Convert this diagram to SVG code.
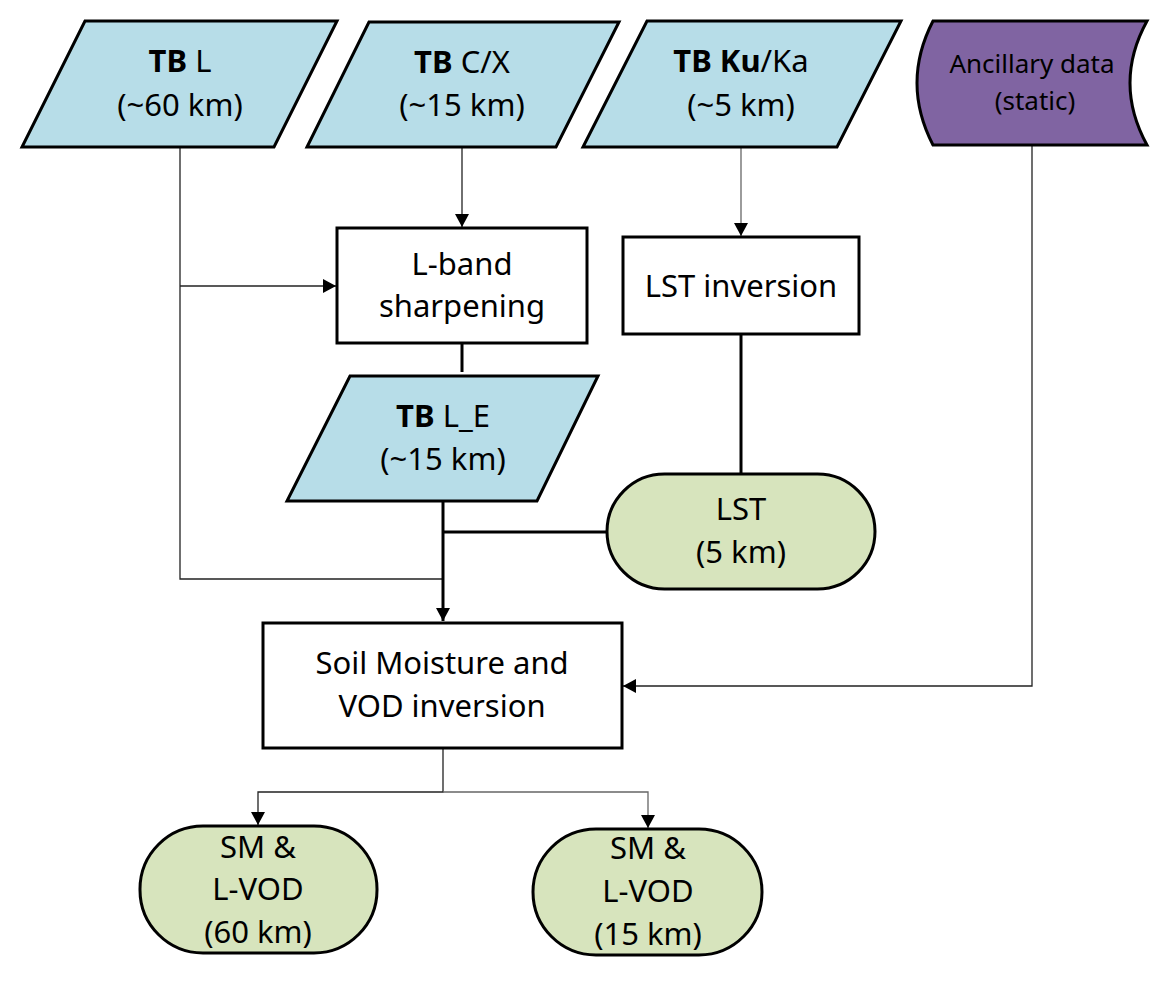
<svg xmlns="http://www.w3.org/2000/svg" width="1166" height="994" viewBox="0 0 1166 994">
<defs>
<style>
text{font-family:"Noto Sans","Open Sans","Liberation Sans",sans-serif;font-size:31px;fill:#000;text-anchor:middle}
.sm{font-size:26px}
.b{font-weight:bold}
.node{stroke:#000;stroke-width:3;stroke-linejoin:miter}
.blue{fill:#B7DDE8}
.green{fill:#D7E4BD}
.purple{fill:#8064A2}
.box{fill:#fff}
.thin{fill:none;stroke:#222;stroke-width:1.3}
.grey{fill:none;stroke:#666;stroke-width:1.3}
.thick{fill:none;stroke:#000;stroke-width:3}
</style>
<marker id="arr" markerUnits="userSpaceOnUse" markerWidth="14" markerHeight="14" viewBox="0 0 14 14" refX="13" refY="7" orient="auto">
<path d="M0,0 L13,7 L0,14 Z" fill="#000"/>
</marker>
</defs>
<g id="connectors">
<path class="thin" d="M180,147 V579 H443"/>
<path class="thin" d="M180,286 H336" marker-end="url(#arr)"/>
<path class="thin" d="M462,147 V227" marker-end="url(#arr)"/>
<path class="grey" d="M741,147 V236" marker-end="url(#arr)"/>
<path class="thin" d="M1032,145 V686 H623" marker-end="url(#arr)"/>
<path class="thick" d="M462,343 V372"/>
<path class="thick" d="M741,334 V474"/>
<path class="thick" d="M443,501 V621" marker-end="url(#arr)"/>
<path class="thick" d="M443,532 H607"/>
<path class="thin" d="M443,748 V792 H258 V825" marker-end="url(#arr)"/>
<path class="grey" d="M443,792 H648 V828" marker-end="url(#arr)"/>
</g>
<g id="tb-l">
<path class="node blue" d="M85,21 H337 L274,147 H22 Z"/>
<text x="180" y="72"><tspan class="b">TB</tspan> L</text>
<text x="180" y="116">(~60 km)</text>
</g>
<g id="tb-cx">
<path class="node blue" d="M369,22 H619 L556,147 H307 Z"/>
<text x="462" y="73"><tspan class="b">TB</tspan> C/X</text>
<text x="462" y="116">(~15 km)</text>
</g>
<g id="tb-kuka">
<path class="node blue" d="M647,21 H901 L837,147 H583 Z"/>
<text x="741" y="72"><tspan class="b">TB Ku</tspan>/Ka</text>
<text x="741" y="116">(~5 km)</text>
</g>
<g id="ancillary">
<path class="node purple" d="M933,21 H1147 Q1113,83 1147,145 H933 Q901,83 933,21 Z"/>
<text class="sm" x="1032" y="73">Ancillary data</text>
<text class="sm" x="1035" y="110">(static)</text>
</g>
<g id="l-band-sharpening">
<rect class="node box" x="337" y="228" width="250" height="115"/>
<text x="462" y="275">L-band</text>
<text x="462" y="317">sharpening</text>
</g>
<g id="lst-inversion">
<rect class="node box" x="623" y="237" width="236" height="97"/>
<text x="741" y="297">LST inversion</text>
</g>
<g id="tb-le">
<path class="node blue" d="M350,376 H598 L537,501 H287 Z"/>
<text x="443" y="427"><tspan class="b">TB</tspan> L_E</text>
<text x="443" y="470">(~15 km)</text>
</g>
<g id="lst">
<rect class="node green" x="607" y="474" width="268" height="115" rx="57.5" ry="57.5"/>
<text x="741" y="520">LST</text>
<text x="741" y="563">(5 km)</text>
</g>
<g id="sm-vod-inversion">
<rect class="node box" x="263" y="623" width="359" height="125"/>
<text x="442" y="674">Soil Moisture and</text>
<text x="442" y="717">VOD inversion</text>
</g>
<g id="sm-60">
<rect class="node green" x="140" y="826" width="237" height="127" rx="63" ry="63"/>
<text x="258" y="858">SM &amp;</text>
<text x="258" y="900">L-VOD</text>
<text x="258" y="943">(60 km)</text>
</g>
<g id="sm-15">
<rect class="node green" x="533" y="829" width="229" height="126" rx="63" ry="63"/>
<text x="648" y="859">SM &amp;</text>
<text x="648" y="902">L-VOD</text>
<text x="648" y="945">(15 km)</text>
</g>
</svg>
